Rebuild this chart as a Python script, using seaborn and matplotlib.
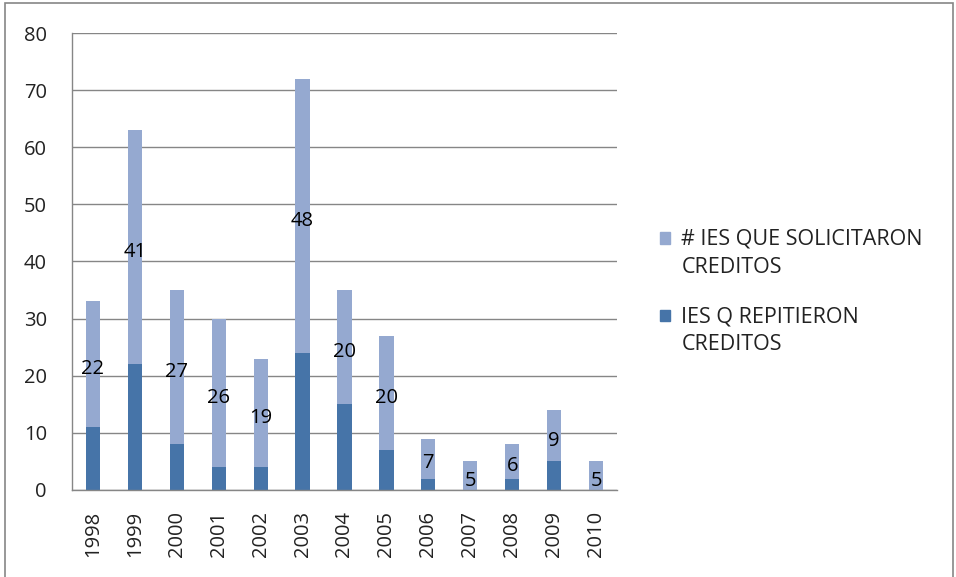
import matplotlib
matplotlib.use("Agg")
import matplotlib.pyplot as plt
import seaborn as sns
import numpy as np
from matplotlib.patches import Rectangle
from matplotlib.legend_handler import HandlerPatch

years = ["1998", "1999", "2000", "2001", "2002", "2003", "2004",
         "2005", "2006", "2007", "2008", "2009", "2010"]
repitieron = [11, 22, 8, 4, 4, 24, 15, 7, 2, 0, 2, 5, 0]
solicitaron = [22, 41, 27, 26, 19, 48, 20, 20, 7, 5, 6, 9, 5]
labels = ["# IES QUE SOLICITARON\nCREDITOS", "IES Q REPITIERON\nCREDITOS"]

light = "#95A9D0"
dark = "#4674A8"
grey = "#868686"
fs = 14.5
leg_fs = 15.5

sns.set_style("white")
plt.rcParams["font.family"] = ["Open Sans", "DejaVu Sans"]

fig = plt.figure(figsize=(9.56, 5.77), dpi=100)
ax = fig.add_axes([0.0753, 0.1508, 0.5701, 0.792])

sns.barplot(x=years, y=repitieron, color=dark, width=0.34,
            saturation=1, linewidth=0, ax=ax)
sns.barplot(x=years, y=solicitaron, bottom=repitieron, color=light,
            width=0.34, saturation=1, linewidth=0, ax=ax)

# data labels in the middle of the upper segment
txts = ax.bar_label(ax.containers[1], labels=[str(v) for v in solicitaron],
                    label_type="center", fontsize=fs, color="black")
for t in txts:
    t.set_position((0, -3.5))

ax.set_ylim(0, 80)
ax.set_xlim(-0.5, len(years) - 0.5)
ax.set_yticks(np.arange(0, 81, 10))
ax.yaxis.grid(True, color=grey, linewidth=1)
ax.set_axisbelow(True)
for s in ["top", "right"]:
    ax.spines[s].set_visible(False)
for s in ["left", "bottom"]:
    ax.spines[s].set_color(grey)
    ax.spines[s].set_linewidth(1)

ax.tick_params(axis="y", length=5, color=grey, labelsize=fs, pad=13,
               labelcolor="#222222")
ax.tick_params(axis="x", which="major", length=0, labelsize=fs, pad=15,
               labelrotation=90, labelcolor="#222222")
ax.set_xticks(np.arange(-0.5, len(years), 1), minor=True)
ax.tick_params(axis="x", which="minor", length=5, color=grey)


# legend square next to the first line of each two-line label
def top_square(legend, orig_handle, xdescent, ydescent, width, height, fontsize):
    return Rectangle((-xdescent, -ydescent + 0.72 * fontsize), width, height)


handles = [Rectangle((0, 0), 1, 1, color=light), Rectangle((0, 0), 1, 1, color=dark)]
leg = ax.legend(handles=handles, labels=labels,
                loc="center left", bbox_to_anchor=(1.079, 0.433),
                frameon=False, fontsize=leg_fs, handlelength=0.47,
                handleheight=0.47, handletextpad=0.52, labelspacing=1.3,
                borderpad=0, borderaxespad=0,
                handler_map={Rectangle: HandlerPatch(patch_func=top_square)})
for t in leg.get_texts():
    t.set_linespacing(1.45)
    t.set_color("#222222")

fig.patches.append(Rectangle((5 / 956, -0.02), 948 / 956, 1.02 - 3 / 577,
                             transform=fig.transFigure, fill=False,
                             edgecolor=grey, linewidth=1.2))

fig.savefig("out.png", dpi=100)
